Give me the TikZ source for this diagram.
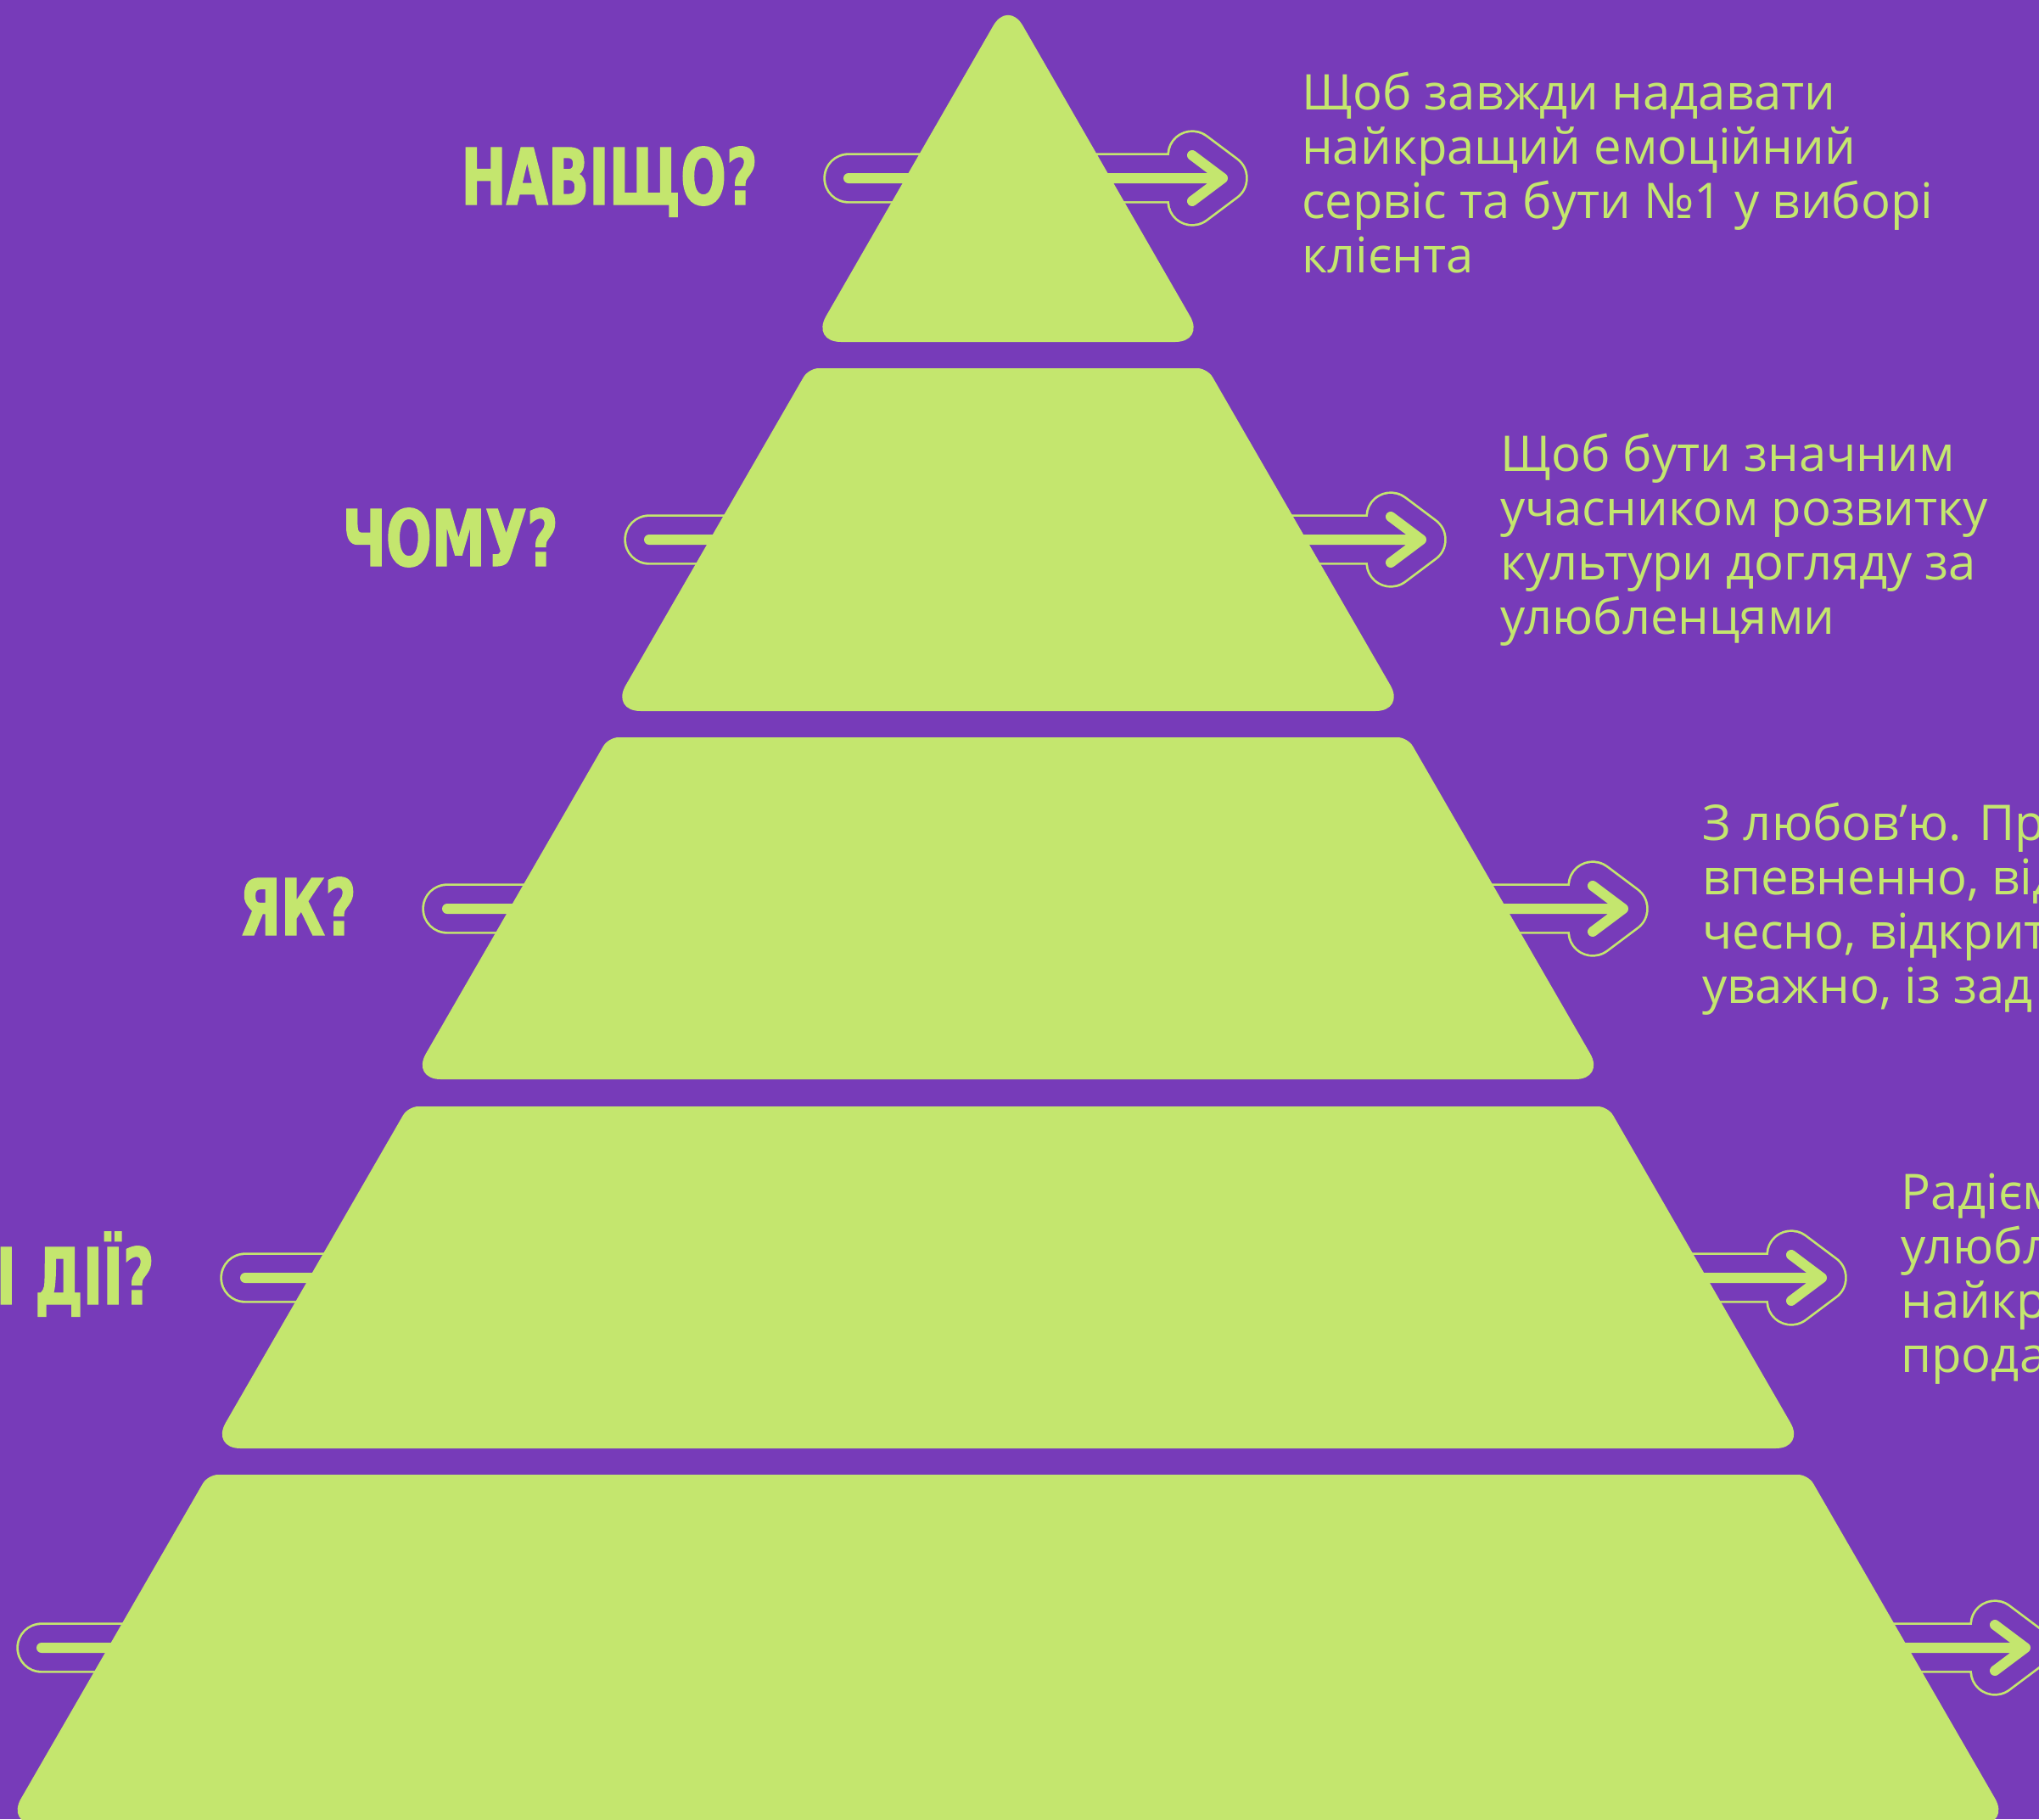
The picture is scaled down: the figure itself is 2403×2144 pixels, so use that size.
\documentclass[tikz,border=0pt]{standalone}
\usepackage{fontspec}
\usetikzlibrary{positioning}
\newfontfamily\headfont[FakeStretch=0.69,FakeBold=1.5]{DejaVu Sans}
\newfontfamily\bodyfont{Open Sans}
\definecolor{bgpurple}{RGB}{119,59,185}
\definecolor{lime}{RGB}{196,230,110}

\begin{document}
\begin{tikzpicture}[x=1bp, y=-1bp,
    tier/.style = {fill=lime},
    pill/.style = {draw=lime, line width=2.7bp, double=bgpurple, double distance=54bp, line cap=round, line join=round},
    shaft/.style = {draw=lime, line width=12bp, line cap=round, line join=round},
    head/.style = {text=lime, inner sep=0pt, font=\headfont\bfseries\fontsize{92bp}{92bp}\selectfont},
    say/.style = {text=lime, inner sep=0pt, font=\bodyfont\fontsize{58bp}{64bp}\selectfont}]
    \useasboundingbox (0,0) rectangle (2403,2144);
    \fill[bgpurple] (0,0) rectangle (2403,2144);
    \clip (0,0) rectangle (2403,2144);
    % arrows behind the pyramid
    \foreach \n/\xa/\xb/\ya in {1/1000/1441/210, 2/765/1675/636, 3/527/1913/1071, 4/289/2147/1506, 5/49/2387/1942} {
        \coordinate (a\n) at (\xa,\ya);
        \coordinate (b\n) at (\xb,\ya);
        \draw[pill] (a\n) -- (b\n) ++(-36,-27) -- (b\n) -- ++(-36,27);
        \draw[shaft] (a\n) -- (b\n) ++(-36,-27) -- (b\n) -- ++(-36,27);
    }
    % pyramid
    \fill[tier, rounded corners=35bp] (1188,403) -- (956,403) -- (1188,0) -- (1420,403) -- cycle;
    \foreach \yt/\wt/\yb in {434/235/838, 869/471/1272, 1304/707/1707, 1738/943/2150}
        \fill[tier] (1188,\yb) [rounded corners=35bp] -- ({1188-\wt-0.577*(\yb-\yt)},\yb)
            [rounded corners=12bp] -- (1188-\wt,\yt) -- (1188+\wt,\yt)
            [rounded corners=35bp] -- ({1188+\wt+0.577*(\yb-\yt)},\yb) -- cycle;
    % questions
    \node[head, left=107bp of a1, anchor=base east, yshift=-31bp] (h1) {НАВІЩО?};
    \node[head, left=107bp of a2, anchor=base east, yshift=-31bp] (h2) {ЧОМУ?};
    \node[head, left=107bp of a3, anchor=base east, yshift=-31bp] (h3) {ЯК?};
    \node[head, left=107bp of a4, anchor=base east, yshift=-31bp] (h4) {ЯКІ ДІЇ?};
    % answers
    \node[say, right=93bp of b1, anchor=base west, yshift=81bp] (s1) {\vtop{\hbox{Щоб завжди надавати}\hbox{найкращий емоційний}\hbox{сервіс та бути №1 у виборі}\hbox{клієнта}}};
    \node[say, right=93bp of b2, anchor=base west, yshift=81bp] (s2) {\vtop{\hbox{Щоб бути значним}\hbox{учасником розвитку}\hbox{культури догляду за}\hbox{улюбленцями}}};
    \node[say, right=93bp of b3, anchor=base west, yshift=81bp] (s3) {\vtop{\hbox{З любов’ю. Пр}\hbox{впевненно, від}\hbox{чесно, відкрит}\hbox{уважно, із зад}}};
    \node[say, right=93bp of b4, anchor=base west, yshift=81bp] (s4) {\vtop{\hbox{Радієм}\hbox{улюбл}\hbox{найкр}\hbox{прода}}};
\end{tikzpicture}
\end{document}
